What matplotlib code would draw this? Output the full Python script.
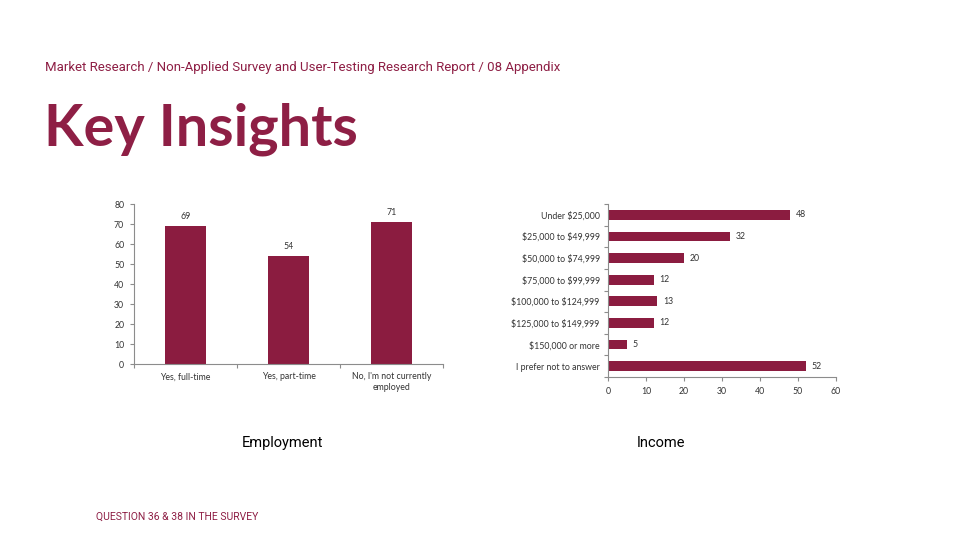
import matplotlib
matplotlib.use("Agg")
import matplotlib.pyplot as plt
import numpy as np

plt.rcParams["text.parse_math"] = False

# data
emp_labels = ["Yes, full-time", "Yes, part-time", "No, I'm not currently\nemployed"]
emp_values = [69, 54, 71]

inc_labels = ["Under $25,000", "$25,000 to $49,999", "$50,000 to $74,999",
              "$75,000 to $99,999", "$100,000 to $124,999", "$125,000 to $149,999",
              "$150,000 or more", "I prefer not to answer"]
inc_values = [48, 32, 20, 12, 13, 12, 5, 52]

BAR = "#8B1C40"
ACCENT = "#8E1F45"
AXIS = "#8C8C8C"
TXT = "#333333"

fig = plt.figure(figsize=(9.6, 5.4), dpi=100)
fig.patch.set_facecolor("white")

fig.text(45/960, 1 - 67/540, "Market Research / Non-Applied Survey and User-Testing Research Report / 08 Appendix",
         family="Roboto", fontsize=9.5, color=ACCENT, va="center", ha="left")
fig.text(44/960, 1 - 145/540, "Key Insights", family="Lato", fontweight="bold",
         fontsize=41.5, color=ACCENT, va="baseline", ha="left")
fig.text(282/960, 1 - 443/540, "Employment", family="Roboto", fontsize=10.5,
         color="black", ha="center", va="center")
fig.text(661/960, 1 - 443/540, "Income", family="Roboto", fontsize=10.5,
         color="black", ha="center", va="center")
fig.text(96/960, 1 - 517/540, "QUESTION 36 & 38 IN THE SURVEY", family="Roboto",
         fontsize=7.5, color=ACCENT, ha="left", va="center")

small = dict(family="Lato", fontsize=6.3, color=TXT)

# employment chart
ax1 = fig.add_axes([134/960, 1 - 364/540, 309/960, 160/540])
x = np.arange(len(emp_values))
ax1.bar(x, emp_values, width=0.4, color=BAR)
for xi, v in zip(x, emp_values):
    ax1.text(xi, v + 2.5, str(v), ha="center", va="bottom", **small)
ax1.set_xlim(-0.5, len(emp_values) - 0.5)
ax1.set_ylim(0, 80)
ax1.set_yticks(range(0, 81, 10))
ax1.set_xticks(x)
ax1.set_xticklabels(emp_labels)
ax1.set_xticks(np.arange(-0.5, len(emp_values)), minor=True)
ax1.tick_params(axis="x", which="major", length=0, pad=6)
ax1.tick_params(axis="x", which="minor", length=3, color=AXIS, width=0.8)
ax1.tick_params(axis="y", length=3, color=AXIS, width=0.8, pad=4)
for lab in ax1.get_xticklabels() + ax1.get_yticklabels():
    lab.set(**small)
for s in ["top", "right"]:
    ax1.spines[s].set_visible(False)
for s in ["left", "bottom"]:
    ax1.spines[s].set_color(AXIS)
    ax1.spines[s].set_linewidth(0.8)

# income chart
ax2 = fig.add_axes([608/960, 1 - 377/540, 228/960, 173/540])
y = np.arange(len(inc_values))
ax2.barh(y, inc_values, height=0.45, color=BAR)
for yi, v in zip(y, inc_values):
    ax2.text(v + 1.5, yi, str(v), ha="left", va="center", **small)
ax2.set_ylim(len(inc_values) - 0.5, -0.5)
ax2.set_xlim(0, 60)
ax2.set_xticks(range(0, 61, 10))
ax2.set_yticks(y)
ax2.set_yticklabels(inc_labels)
ax2.set_yticks(np.arange(-0.5, len(inc_values)), minor=True)
ax2.tick_params(axis="y", which="major", length=0, pad=6)
ax2.tick_params(axis="y", which="minor", length=3, color=AXIS, width=0.8)
ax2.tick_params(axis="x", length=3, color=AXIS, width=0.8, pad=4)
for lab in ax2.get_xticklabels() + ax2.get_yticklabels():
    lab.set(**small)
for s in ["top", "right"]:
    ax2.spines[s].set_visible(False)
for s in ["left", "bottom"]:
    ax2.spines[s].set_color(AXIS)
    ax2.spines[s].set_linewidth(0.8)

fig.savefig("out.png", dpi=100, facecolor="white")
